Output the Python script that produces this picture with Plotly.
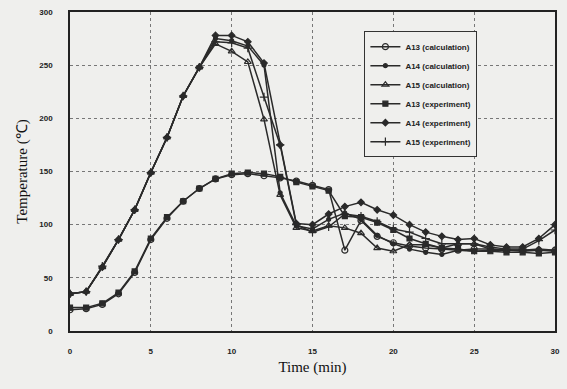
import plotly.graph_objects as go

time_min = list(range(0, 31))

a13_calc = [20, 21, 25, 35, 55, 86, 106, 122, 134, 143, 147, 148, 146, 144, 141, 137, 133, 76, 104, 89, 83, 80, 78, 77, 76, 77, 77, 76, 76, 76, 76]
a14_calc = [35, 37, 60, 86, 114, 149, 182, 221, 248, 275, 273, 268, 250, 130, 99, 96, 105, 111, 105, 90, 82, 77, 74, 72, 76, 75, 76, 76, 75, 76, 75]
a15_calc = [35, 37, 60, 86, 114, 149, 182, 221, 248, 270, 263, 253, 199, 128, 97, 94, 99, 97, 92, 78, 75, 81, 81, 78, 82, 82, 77, 76, 76, 77, 76]
a13_exp = [22, 22, 26, 36, 56, 87, 107, 122, 134, 143, 148, 149, 148, 145, 140, 136, 132, 108, 107, 102, 95, 87, 82, 78, 77, 75, 75, 74, 74, 73, 74]
a14_exp = [35, 37, 60, 86, 114, 149, 182, 221, 248, 278, 278, 272, 252, 175, 101, 100, 110, 117, 121, 114, 109, 100, 93, 89, 86, 87, 81, 79, 79, 87, 100]
a15_exp = [35, 37, 61, 86, 114, 149, 182, 221, 248, 272, 271, 266, 220, 175, 100, 93, 98, 110, 108, 103, 96, 93, 87, 82, 82, 82, 79, 77, 77, 85, 95]

series = [
    ("A13 (calculation)", a13_calc, "circle-open", 6),
    ("A14 (calculation)", a14_calc, "circle", 4),
    ("A15 (calculation)", a15_calc, "triangle-up-open", 6),
    ("A13 (experiment)", a13_exp, "square", 5),
    ("A14 (experiment)", a14_exp, "diamond", 5),
    ("A15 (experiment)", a15_exp, "cross-thin-open", 6),
]

fig = go.Figure()
for name, vals, sym, sz in series:
    fig.add_trace(go.Scatter(
        x=time_min, y=vals, name=name, mode="lines+markers",
        line=dict(color="#2a2a2a", width=1.5),
        marker=dict(symbol=sym, size=sz, color="#2a2a2a",
                    line=dict(color="#2a2a2a", width=1.2)),
    ))

tick_font = dict(family="Liberation Sans", size=8, color="#222", weight="bold")
title_font = dict(family="Liberation Serif", size=15, color="#111")

fig.update_layout(
    width=567, height=389,
    margin=dict(l=70, r=7, t=12, b=58),
    paper_bgcolor="#efefed", plot_bgcolor="#efefed",
    showlegend=True,
    legend=dict(
        x=0.607, y=0.94, xanchor="left", yanchor="top",
        bgcolor="#efefed", bordercolor="#333", borderwidth=1,
        font=dict(family="Liberation Sans", size=8, color="#222", weight="bold"),
        tracegroupgap=0, itemwidth=30,
    ),
    xaxis=dict(
        range=[0, 30], tickvals=[0, 5, 10, 15, 20, 25, 30],
        showgrid=True, gridcolor="#777", griddash="dot", gridwidth=1,
        showline=True, linecolor="#222", linewidth=1.5, mirror=True,
        ticks="", tickfont=tick_font, ticklabelstandoff=12,
        title=dict(text="Time (min)", font=title_font, standoff=6),
        zeroline=False,
    ),
    yaxis=dict(
        range=[0, 300], tickvals=[0, 50, 100, 150, 200, 250, 300],
        showgrid=True, gridcolor="#777", griddash="dot", gridwidth=1,
        showline=True, linecolor="#222", linewidth=1.5, mirror=True,
        ticks="", tickfont=tick_font, ticklabelstandoff=14,
        title=dict(text="Temperature (℃)", font=title_font, standoff=8),
        zeroline=False,
    ),
)

fig.write_html("out.html")
